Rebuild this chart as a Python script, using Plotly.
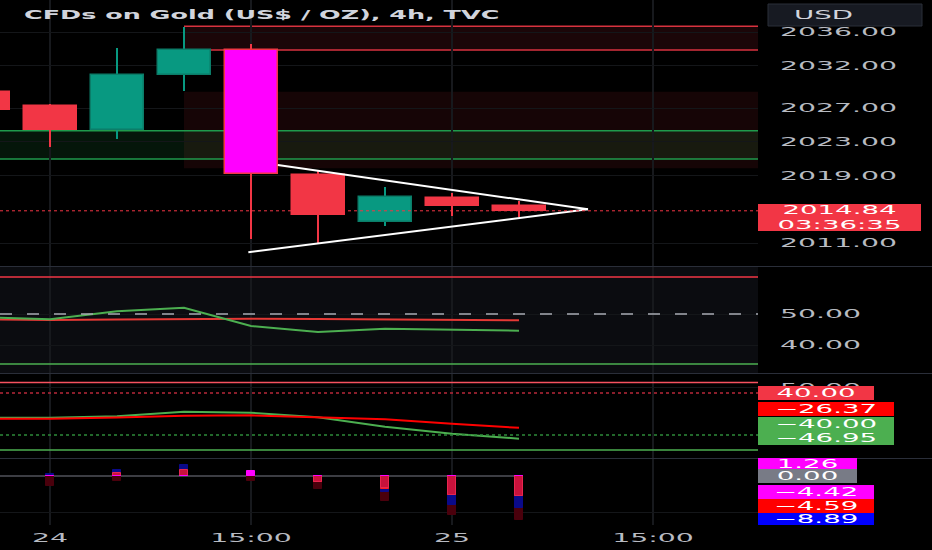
import plotly.graph_objects as go

W, H = 932, 550
PLOT_RIGHT = 758  # px where the price scale starts

# ---------------- data ----------------
bar_index = [-1, 0, 1, 2, 3, 4, 5, 6, 7]
opens  = [2028.90, 2027.24, 2024.40, 2030.90, 2033.87, 2019.08, 2013.48, 2016.35, 2015.40]
highs  = [2029.30, 2027.50, 2034.10, 2036.60, 2034.60, 2019.67, 2017.60, 2016.95, 2016.00]
lows   = [2026.40, 2022.40, 2023.30, 2029.00, 2011.50, 2010.96, 2013.08, 2014.20, 2014.10]
closes = [2026.80, 2024.40, 2030.90, 2033.87, 2019.23, 2014.34, 2016.44, 2015.44, 2014.84]
highlight_bar = 3

time_tick_vals = [0, 3, 6, 9]
time_tick_text = ["24", "15:00", "25", "15:00"]

price_tick_vals = [2011, 2019, 2023, 2027, 2032, 2036]
last_price = 2014.84
countdown = "03:36:35"

red_zone = [2033.87, 2036.67]
dim_zone = [2019.87, 2028.94]
green_zone = [2020.97, 2024.32]
zone_start = 2

tri_upper_x = [3.40, 8.03]
tri_upper_y = [2020.26, 2015.02]
tri_lower_x = [2.96, 8.03]
tri_lower_y = [2009.93, 2015.02]

rsi    = [48.97, 48.29, 50.87, 52.03, 46.13, 44.19, 45.26, 44.84, 44.61]
rsi_ma = [48.29, 48.06, 48.20, 48.45, 48.50, 48.40, 48.30, 48.10, 47.97]
rsi_upper, rsi_mid, rsi_lower = 61.94, 50.0, 33.87
rsi_tick_vals = [40, 50]

osc_fast = [-7.05, -7.05, -4.38, 4.38, 2.48, -6.29, -24.5, -37.5, -46.95]
osc_slow = [-8.95, -8.95, -6.67, -3.24, -2.48, -5.71, -10.10, -18.48, -26.37]
osc_outer_top, osc_ob, osc_os, osc_outer_bot = 60.0, 40.0, -40.0, -68.5

hist_maroon  = [-1.0, -2.69, -1.30, 0.00, -1.30, -3.61, -6.86, -10.97, -12.22]
hist_navy    = [0.0, 0.47, 1.67, 3.06, 0.00, 0.00, -4.36, -8.06, -8.97]
hist_red     = [0.0, 0.00, 0.00, 0.00, 0.00, -1.75, -3.60, -5.40, -5.60]
hist_crimson = [0.0, 0.00, 0.92, 1.67, 0.00, -1.58, -3.42, -5.28, -5.47]
hist_magenta = [0.0, 0.00, 0.00, 0.00, 1.39, 0.00, 0.00, 0.00, 0.00]
hist_label_values = [1.26, 0.00, -4.42, -4.59, -8.89]

# ---------------- styling ----------------
BG = "#000000"
GRID = "#17191d"
AXIS_TXT = "#b8bbc2"
RED = "#f23645"
GREEN = "#089981"
MAGENTA = "#ff00ff"
FONT = "DejaVu Sans"
FS = 12

def fmt(v):
    return f"{v:.2f}".replace("-", "\u2212")

def ydom(top_px, bot_px):
    return [1 - bot_px / H, 1 - top_px / H]

x_range = [-50 / 67, (PLOT_RIGHT - 50) / 67]
px_per_bar = 67.0
body_w = 53 / px_per_bar
wick_w = 2 / px_per_bar
hist_w = 8 / px_per_bar

fig = go.Figure()

# ---------- main pane: candles ----------
body_colors, body_lines, wick_colors = [], [], []
for k, i in enumerate(bar_index):
    if i == highlight_bar:
        body_colors.append(MAGENTA); body_lines.append(RED); wick_colors.append(RED)
    elif closes[k] >= opens[k]:
        body_colors.append(GREEN); body_lines.append("#0b7d69"); wick_colors.append(GREEN)
    else:
        body_colors.append(RED); body_lines.append(RED); wick_colors.append(RED)

fig.add_trace(go.Bar(
    x=bar_index, base=lows, y=[h - l for h, l in zip(highs, lows)],
    width=wick_w, marker=dict(color=wick_colors, line=dict(width=0)),
    xaxis="x", yaxis="y", hoverinfo="skip", showlegend=False))
fig.add_trace(go.Bar(
    x=bar_index, base=[min(o, c) for o, c in zip(opens, closes)],
    y=[abs(c - o) for o, c in zip(opens, closes)],
    width=body_w, marker=dict(color=body_colors, line=dict(color=body_lines, width=1.5)),
    xaxis="x", yaxis="y", hoverinfo="skip", showlegend=False))

for tx, ty in ((tri_upper_x, tri_upper_y), (tri_lower_x, tri_lower_y)):
    fig.add_trace(go.Scatter(x=tx, y=ty, mode="lines", line=dict(color="#ffffff", width=2),
                             xaxis="x", yaxis="y", hoverinfo="skip", showlegend=False))

# ---------- pane 2 ----------
fig.add_trace(go.Scatter(x=bar_index, y=rsi_ma, mode="lines", line=dict(color="#e53935", width=2),
                         xaxis="x2", yaxis="y2", hoverinfo="skip", showlegend=False))
fig.add_trace(go.Scatter(x=bar_index, y=rsi, mode="lines", line=dict(color="#4caf50", width=2),
                         xaxis="x2", yaxis="y2", hoverinfo="skip", showlegend=False))

# ---------- pane 3 ----------
fig.add_trace(go.Scatter(x=bar_index, y=osc_fast, mode="lines", line=dict(color="#4caf50", width=2),
                         xaxis="x3", yaxis="y3", hoverinfo="skip", showlegend=False))
fig.add_trace(go.Scatter(x=bar_index, y=osc_slow, mode="lines", line=dict(color="#ff0000", width=2),
                         xaxis="x3", yaxis="y3", hoverinfo="skip", showlegend=False))

# ---------- pane 4: histogram ----------
for vals, col, lc in ((hist_maroon, "#4a000c", "#4a000c"), (hist_navy, "#0a0a8a", "#0a0a8a"),
                      (hist_red, "#ff1a1a", "#ff1a1a"), (hist_crimson, "#c8123c", "#e8264f"),
                      (hist_magenta, MAGENTA, MAGENTA)):
    fig.add_trace(go.Bar(x=bar_index, y=vals, width=hist_w,
                         marker=dict(color=col, line=dict(color=lc, width=1)),
                         xaxis="x4", yaxis="y4", hoverinfo="skip", showlegend=False))

# ---------- shapes ----------
shapes = []
xr_max = x_range[1]
xr_min = x_range[0]
shapes.append(dict(type="rect", xref="x", yref="y", x0=zone_start, x1=xr_max, y0=dim_zone[0], y1=dim_zone[1],
                   fillcolor="rgba(242,54,69,0.09)", line=dict(width=0), layer="below"))
shapes.append(dict(type="rect", xref="x", yref="y", x0=zone_start, x1=xr_max, y0=red_zone[0], y1=red_zone[1],
                   fillcolor="rgba(242,54,69,0.11)", line=dict(width=0), layer="below"))
shapes.append(dict(type="rect", xref="x", yref="y", x0=xr_min, x1=xr_max, y0=green_zone[0], y1=green_zone[1],
                   fillcolor="rgba(40,180,80,0.12)", line=dict(width=0), layer="below"))
for yv in red_zone:
    shapes.append(dict(type="line", xref="x", yref="y", x0=zone_start, x1=xr_max, y0=yv, y1=yv,
                       line=dict(color="#d8323f", width=1.5), layer="below"))
for yv in green_zone:
    shapes.append(dict(type="line", xref="x", yref="y", x0=xr_min, x1=xr_max, y0=yv, y1=yv,
                       line=dict(color="#1f9a4c", width=1.5), layer="below"))
shapes.append(dict(type="line", xref="x domain", yref="y", x0=0, x1=1, y0=last_price, y1=last_price,
                   line=dict(color=RED, width=1, dash="dot")))
shapes.append(dict(type="rect", xref="x2 domain", yref="y2 domain", x0=0, x1=1, y0=0, y1=1,
                   fillcolor="#0b0c10", line=dict(width=0), layer="below"))
shapes.append(dict(type="line", xref="x2 domain", yref="y2", x0=0, x1=1, y0=rsi_upper, y1=rsi_upper,
                   line=dict(color=RED, width=1.5)))
shapes.append(dict(type="line", xref="x2 domain", yref="y2", x0=0, x1=1, y0=rsi_lower, y1=rsi_lower,
                   line=dict(color="#4caf50", width=1.5)))
shapes.append(dict(type="line", xref="x2 domain", yref="y2", x0=0, x1=1, y0=rsi_mid, y1=rsi_mid,
                   line=dict(color="#a8abb3", width=1.5, dash="12px,15px")))
shapes.append(dict(type="line", xref="x3 domain", yref="y3", x0=0, x1=1, y0=osc_outer_top, y1=osc_outer_top,
                   line=dict(color="#f7525f", width=1.5)))
shapes.append(dict(type="line", xref="x3 domain", yref="y3", x0=0, x1=1, y0=osc_ob, y1=osc_ob,
                   line=dict(color="#b8283a", width=1.5, dash="dot")))
shapes.append(dict(type="line", xref="x3 domain", yref="y3", x0=0, x1=1, y0=osc_os, y1=osc_os,
                   line=dict(color="#2e8b3a", width=1.5, dash="dot")))
shapes.append(dict(type="line", xref="x3 domain", yref="y3", x0=0, x1=1, y0=osc_outer_bot, y1=osc_outer_bot,
                   line=dict(color="#4caf50", width=1.5)))
shapes.append(dict(type="line", xref="x4", yref="y4", x0=xr_min, x1=bar_index[-1], y0=0, y1=0,
                   line=dict(color="#787b86", width=1.2), layer="below"))
for sep in (266.5, 373.5, 458.5):
    shapes.append(dict(type="line", xref="paper", yref="paper", x0=0, x1=1, y0=1 - sep / H, y1=1 - sep / H,
                       line=dict(color="#2a2e39", width=1)))
shapes.append(dict(type="rect", xref="paper", yref="paper", x0=768 / W, x1=922 / W, y0=1 - 26 / H, y1=1 - 4 / H,
                   fillcolor="#171a22", line=dict(color="#2a2e39", width=1)))

# ---------- annotations ----------
ann = []
ann.append(dict(text="CFDs on Gold (US$ / OZ), 4h, TVC", xref="paper", yref="paper",
                x=22 / W, y=1 - 14.5 / H, xanchor="left", yanchor="middle", showarrow=False, align="left",
                font=dict(family=FONT, size=FS, color="#d1d4dc", weight="bold")))
ann.append(dict(text="USD", xref="paper", yref="paper", x=792 / W, y=1 - 15 / H, xanchor="left",
                yanchor="middle", showarrow=False, align="left",
                font=dict(family=FONT, size=FS, color="#d1d4dc")))

def box(text, color, top, bot, right, fcolor="#ffffff"):
    ann.append(dict(text=text, xref="paper", yref="paper", x=PLOT_RIGHT / W, y=1 - (top + bot) / 2 / H,
                    xanchor="left", yanchor="middle", showarrow=False, width=right - PLOT_RIGHT,
                    height=bot - top, bgcolor=color, borderpad=0, borderwidth=0, align="center",
                    valign="middle", font=dict(family=FONT, size=FS, color=fcolor)))

box(f"{last_price:.2f}<br>{countdown}", RED, 204, 231, 921)
box(fmt(osc_ob), RED, 386, 400, 874)
box(fmt(osc_slow[-1]), "#ff0000", 402, 416, 894)
box(fmt(osc_os), "#4caf50", 417, 431, 894)
box(fmt(osc_fast[-1]), "#4caf50", 431, 445, 894)
hist_box_colors = [MAGENTA, "#787b86", MAGENTA, "#ff0000", "#0000ff"]
hist_box_px = [(458, 469, 857), (469, 483, 857), (485, 499, 874), (499, 513.5, 874), (513.5, 525, 874)]
for v, c, (t, b, r) in zip(hist_label_values, hist_box_colors, hist_box_px):
    box(fmt(v), c, t, b, r)

# ---------- axes ----------
tickfont = dict(family=FONT, size=FS, color=AXIS_TXT)

def xax(anchor, labels, match=True):
    d = dict(domain=[0, PLOT_RIGHT / W], range=x_range, anchor=anchor, tickvals=time_tick_vals,
             ticktext=time_tick_text, showticklabels=labels, showgrid=True, gridcolor=GRID, gridwidth=1.5,
             zeroline=False, showline=False, ticks="", tickfont=tickfont, fixedrange=True,
             ticklabelstandoff=4)
    if match:
        d["matches"] = "x"
    return d

def yax(anchor, dom, rng, tv, labels=True):
    return dict(domain=dom, range=rng, anchor=anchor, side="right", tickvals=tv,
                ticktext=[fmt(v) for v in tv], showticklabels=labels,
                showgrid=True, gridcolor="#141619", zeroline=False, showline=False, ticks="",
                tickfont=tickfont, ticklabelstandoff=21, fixedrange=True)

main_rng = [2036 - (266 - 32) / 8.45, 2036 + 32 / 8.45]
p2_rng = [50 - (373 - 314) / 3.1, 50 + (314 - 267) / 3.1]
p3_rng = [40 - (458 - 393) / 0.525, 40 + (393 - 374) / 0.525]
p4_rng = [-(525 - 476) / 3.6, (476 - 459) / 3.6]

fig.update_layout(
    width=W, height=H, margin=dict(l=0, r=0, t=0, b=0),
    paper_bgcolor=BG, plot_bgcolor=BG, barmode="overlay", bargap=0,
    showlegend=False, hovermode=False,
    xaxis=xax("y", False, match=False),
    xaxis2=xax("y2", False),
    xaxis3=xax("y3", False),
    xaxis4=xax("y4", True),
    yaxis=yax("x", ydom(0, 266), main_rng, price_tick_vals),
    yaxis2=yax("x2", ydom(267, 373), p2_rng, rsi_tick_vals),
    yaxis3=yax("x3", ydom(374, 458), p3_rng, [50]),
    yaxis4=yax("x4", ydom(459, 525), p4_rng, [-10], labels=False),
    shapes=shapes, annotations=ann,
)

# page chrome: remove the default body margin, and widen the glyphs the way the
# (horizontally stretched) reference screenshot shows them
post_js = """
document.documentElement.style.margin='0';
document.body.style.margin='0';
document.body.style.background='#000000';
var gd = document.getElementById('{plot_id}');
function stretchText(nodes, k){
  Array.prototype.forEach.call(nodes, function(t){
    var lines = t.querySelectorAll('tspan.line');
    var els = lines.length ? Array.prototype.slice.call(lines) : [t];
    els.forEach(function(e){
      var L = e.getComputedTextLength();
      if (L > 0) {
        e.setAttribute('textLength', (L * k).toFixed(2));
        e.setAttribute('lengthAdjust', 'spacingAndGlyphs');
      }
    });
  });
}
if (gd) {
  stretchText(gd.querySelectorAll('g.xaxislayer-above text, g.yaxislayer-above text'), 2.36);
  Array.prototype.forEach.call(gd.querySelectorAll('g.annotation'), function(a){
    var t = a.querySelector('text.annotation-text');
    if (!t) return;
    var k = a.getAttribute('data-index') === '0' ? 2.12 : 2.3;
    stretchText([t], k);
  });
}
"""

fig.write_html("out.html", post_script=post_js, config={"displayModeBar": False})
